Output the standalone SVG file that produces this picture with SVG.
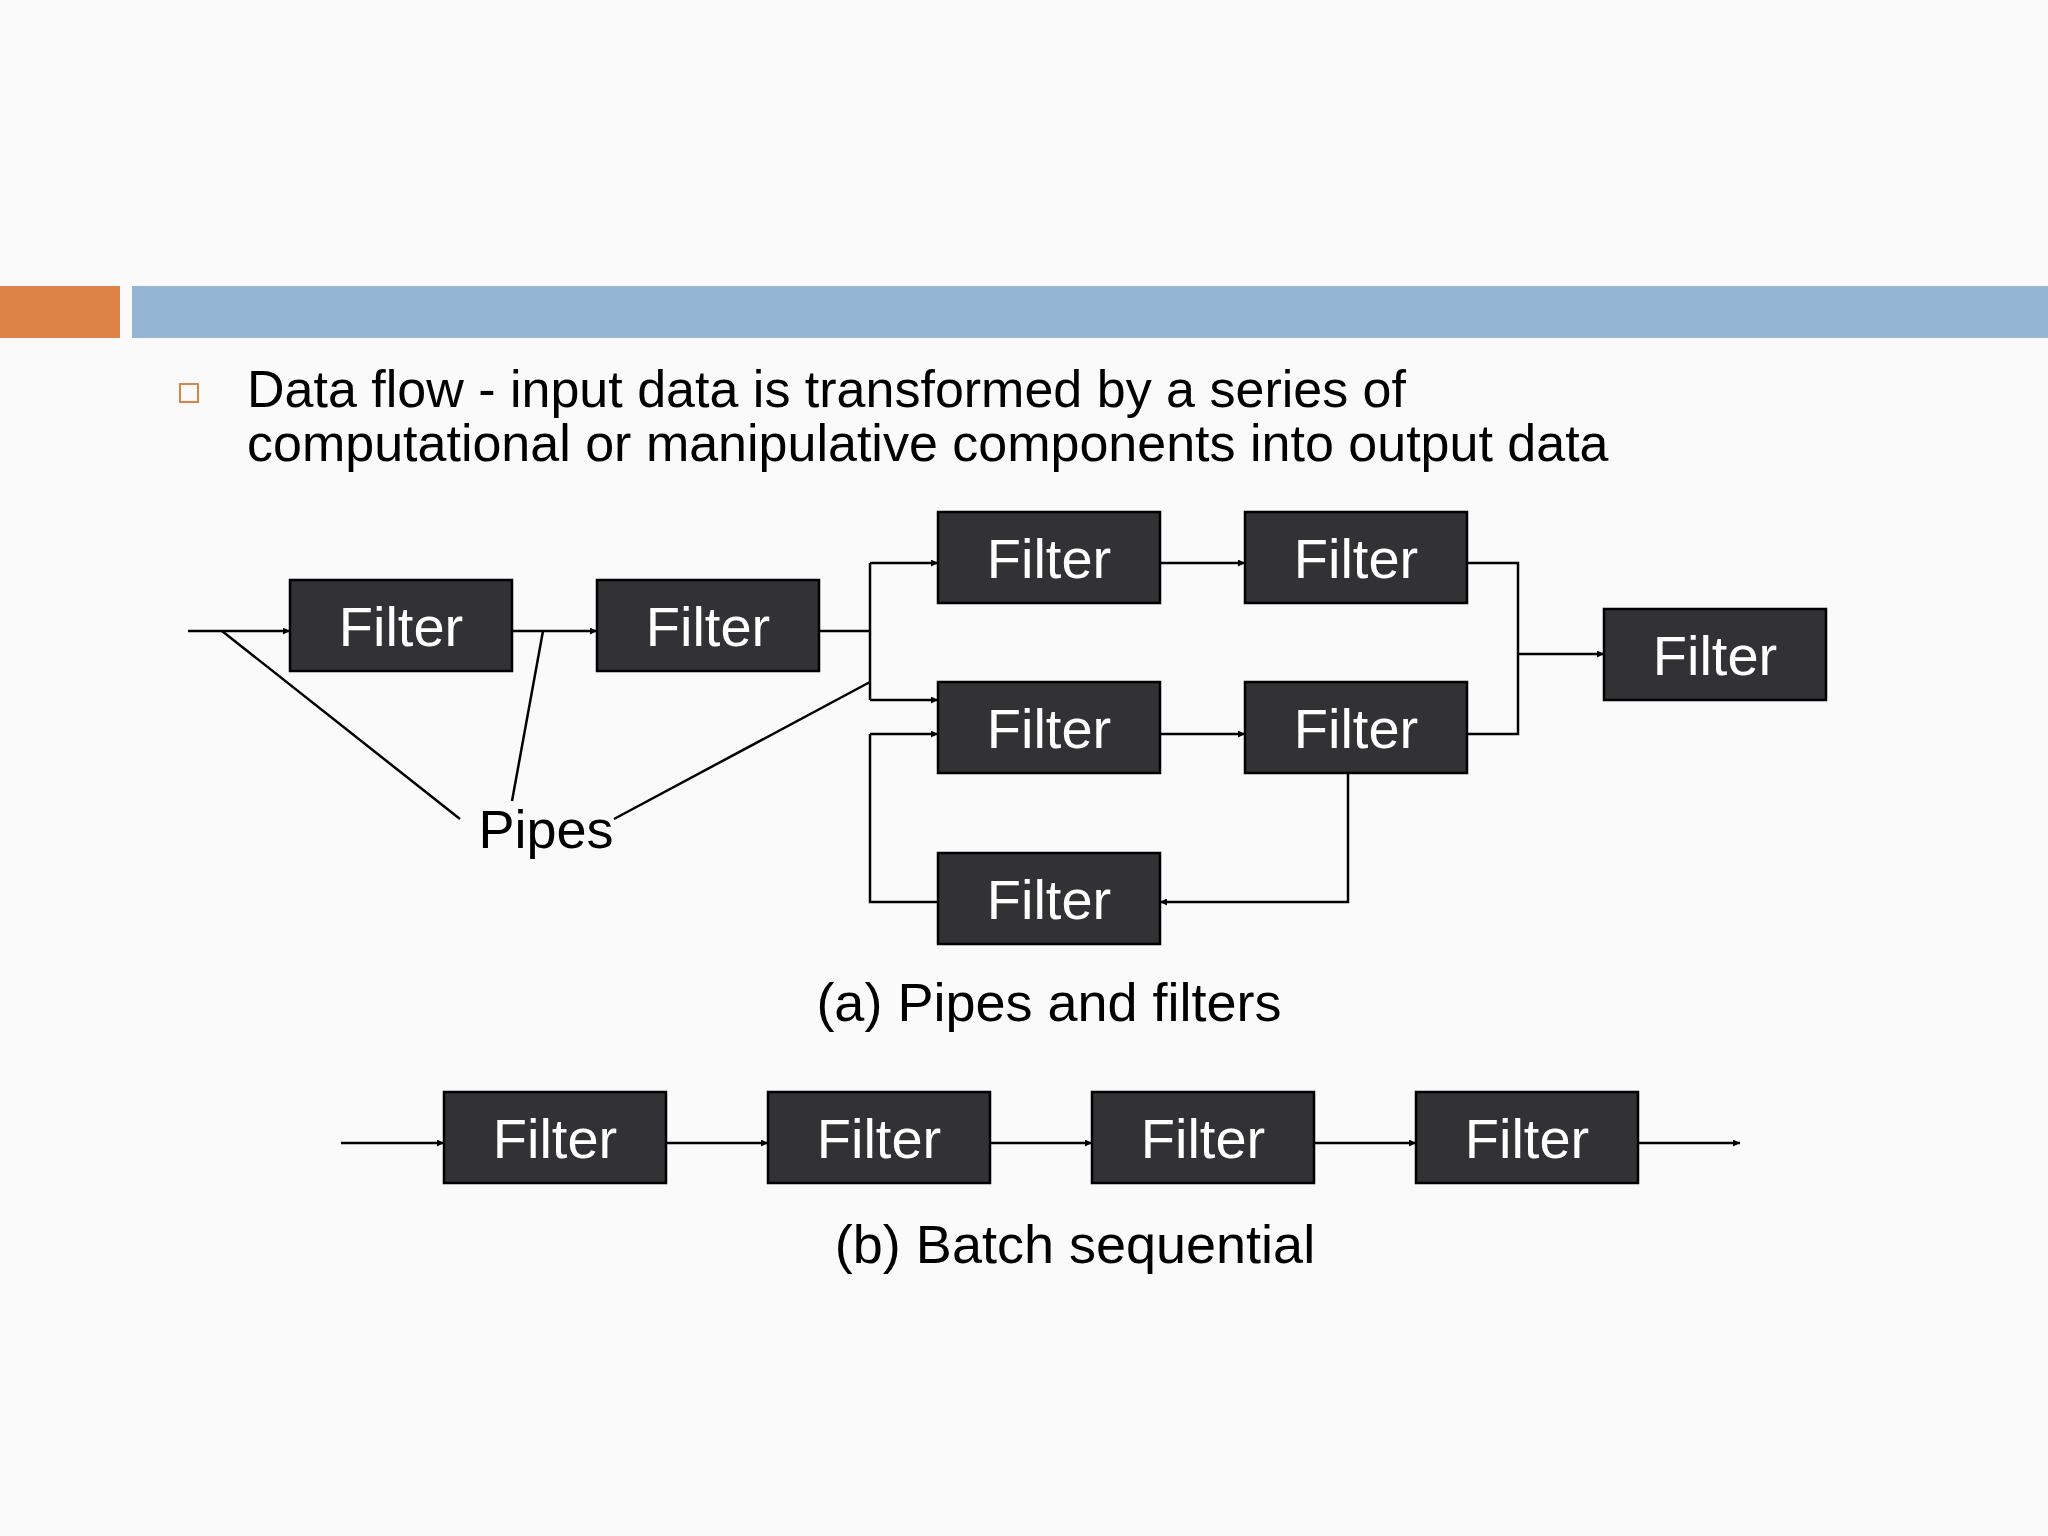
<svg xmlns="http://www.w3.org/2000/svg" width="2048" height="1536" viewBox="0 0 2048 1536">
<defs>
<marker id="ah" viewBox="0 0 10 10" refX="10" refY="5" markerWidth="7" markerHeight="7" markerUnits="userSpaceOnUse" orient="auto"><path d="M0,0L10,5L0,10z" fill="#000"/></marker>
<style>
.b{fill:#323134;stroke:#000;stroke-width:2.5}
.t{font-family:"Liberation Sans",Arial,sans-serif;font-size:56px;fill:#fff;text-anchor:middle}
.l{fill:none;stroke:#000;stroke-width:2.5}
.a{marker-end:url(#ah)}
.k{font-family:"Liberation Sans",Arial,sans-serif;fill:#000}
</style>
</defs>
<rect width="2048" height="1536" fill="#fafafa"/>
<rect x="0" y="286" width="120" height="52" fill="#de8345"/>
<rect x="132" y="286" width="1916" height="52" fill="#94b6d4"/>
<rect x="180" y="384" width="18" height="18" fill="none" stroke="#de8345" stroke-width="2"/>
<text class="k" x="247" y="407" font-size="52">Data flow - input data is transformed by a series of</text>
<text class="k" x="247" y="461" font-size="52">computational or manipulative components into output data</text>
<g id="connectors">
<path class="l a" d="M188,631H290"/>
<path class="l a" d="M512,631H597"/>
<path class="l" d="M819,631H870M870,563V700"/>
<path class="l a" d="M870,563H938"/>
<path class="l a" d="M870,700H938"/>
<path class="l" d="M938,902H870V734"/>
<path class="l a" d="M870,734H938"/>
<path class="l a" d="M1160,563H1245"/>
<path class="l a" d="M1160,734H1245"/>
<path class="l" d="M1467,563H1518V734H1467"/>
<path class="l a" d="M1518,654H1604"/>
<path class="l a" d="M1348,773V902H1160"/>
<path class="l" d="M222,631L460,819M543,631L512,801M870,682L614,819"/>
<path class="l a" d="M341,1143H444"/>
<path class="l a" d="M666,1143H768"/>
<path class="l a" d="M990,1143H1092"/>
<path class="l a" d="M1314,1143H1416"/>
<path class="l a" d="M1638,1143H1740"/>
</g>
<g id="a1"><rect class="b" x="290" y="580" width="222" height="91"/><text class="t" x="401" y="646">Filter</text></g>
<g id="a2"><rect class="b" x="597" y="580" width="222" height="91"/><text class="t" x="708" y="646">Filter</text></g>
<g id="b1"><rect class="b" x="938" y="512" width="222" height="91"/><text class="t" x="1049" y="578">Filter</text></g>
<g id="b2"><rect class="b" x="1245" y="512" width="222" height="91"/><text class="t" x="1356" y="578">Filter</text></g>
<g id="c1"><rect class="b" x="938" y="682" width="222" height="91"/><text class="t" x="1049" y="748">Filter</text></g>
<g id="c2"><rect class="b" x="1245" y="682" width="222" height="91"/><text class="t" x="1356" y="748">Filter</text></g>
<g id="d"><rect class="b" x="938" y="853" width="222" height="91"/><text class="t" x="1049" y="919">Filter</text></g>
<g id="e"><rect class="b" x="1604" y="609" width="222" height="91"/><text class="t" x="1715" y="675">Filter</text></g>
<g id="pipes"><text class="k" x="546" y="848" font-size="54" text-anchor="middle">Pipes</text></g>
<text class="k" x="1049" y="1021" font-size="54" text-anchor="middle">(a) Pipes and filters</text>
<g id="s1"><rect class="b" x="444" y="1092" width="222" height="91"/><text class="t" x="555" y="1158">Filter</text></g>
<g id="s2"><rect class="b" x="768" y="1092" width="222" height="91"/><text class="t" x="879" y="1158">Filter</text></g>
<g id="s3"><rect class="b" x="1092" y="1092" width="222" height="91"/><text class="t" x="1203" y="1158">Filter</text></g>
<g id="s4"><rect class="b" x="1416" y="1092" width="222" height="91"/><text class="t" x="1527" y="1158">Filter</text></g>
<text class="k" x="1075" y="1263" font-size="54" text-anchor="middle">(b) Batch sequential</text>
</svg>
